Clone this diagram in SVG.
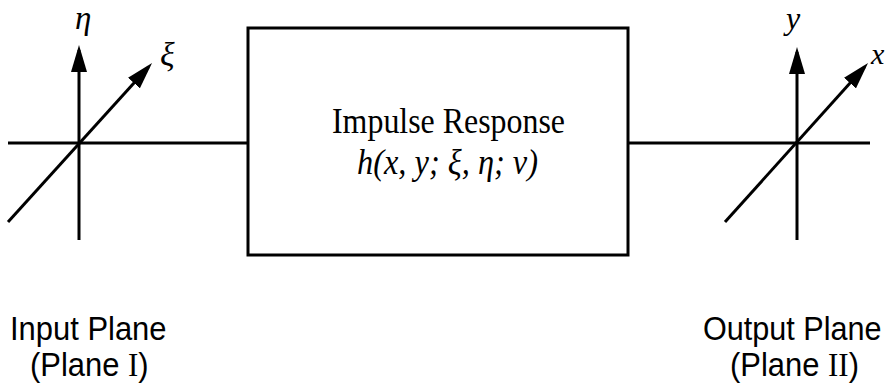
<svg xmlns="http://www.w3.org/2000/svg" width="887" height="387" viewBox="0 0 887 387">
<style>
.ln{stroke:#000;stroke-width:3;fill:none}
.ar{marker-end:url(#ah)}
.math{font-family:"Liberation Serif","Times New Roman",serif;font-style:italic;fill:#000}
.serif{font-family:"Liberation Serif","Times New Roman",serif;fill:#000}
.sans{font-family:"Liberation Sans",Arial,sans-serif;fill:#000;font-size:34px}
</style>
<defs>
<marker id="ah" viewBox="0 0 27 16" refX="22" refY="8" markerWidth="27" markerHeight="16" orient="auto" markerUnits="userSpaceOnUse">
<path d="M0,0 L27,8 L0,16 z" fill="#000"/>
</marker>
</defs>
<rect width="887" height="387" fill="#fff"/>
<g id="connectors">
<line class="ln" x1="8" y1="143" x2="248" y2="143"/>
<line class="ln" x1="628" y1="143" x2="870" y2="143"/>
</g>
<g id="input-plane">
<line class="ln ar" x1="79" y1="240" x2="79" y2="50"/>
<line class="ln ar" x1="8" y1="222" x2="148.7" y2="66.7"/>
<text class="math" x="75" y="29" font-size="33">η</text>
<text class="math" x="160" y="66" font-size="34">ξ</text>
<text class="sans" transform="translate(10,340) scale(0.91,1)">Input Plane</text>
<text class="sans" transform="translate(30,376) scale(0.91,1)">(Plane <tspan class="serif">I</tspan>)</text>
</g>
<g id="impulse-response">
<rect class="ln" x="248" y="28" width="380" height="227"/>
<text class="serif" x="332" y="133" font-size="35" textLength="233" lengthAdjust="spacingAndGlyphs">Impulse Response</text>
<text class="math" x="357" y="174" font-size="36" textLength="181" lengthAdjust="spacingAndGlyphs">h(x, y; ξ, η; ν)</text>
</g>
<g id="output-plane">
<line class="ln ar" x1="797" y1="240" x2="797" y2="52"/>
<line class="ln ar" x1="725" y1="222" x2="864.7" y2="66.7"/>
<text class="math" x="786" y="29" font-size="32">y</text>
<text class="math" x="871" y="64" font-size="30">x</text>
<text class="sans" transform="translate(703,340) scale(0.9,1)">Output Plane</text>
<text class="sans" transform="translate(730,376) scale(0.91,1)">(Plane <tspan class="serif">II</tspan>)</text>
</g>
</svg>
